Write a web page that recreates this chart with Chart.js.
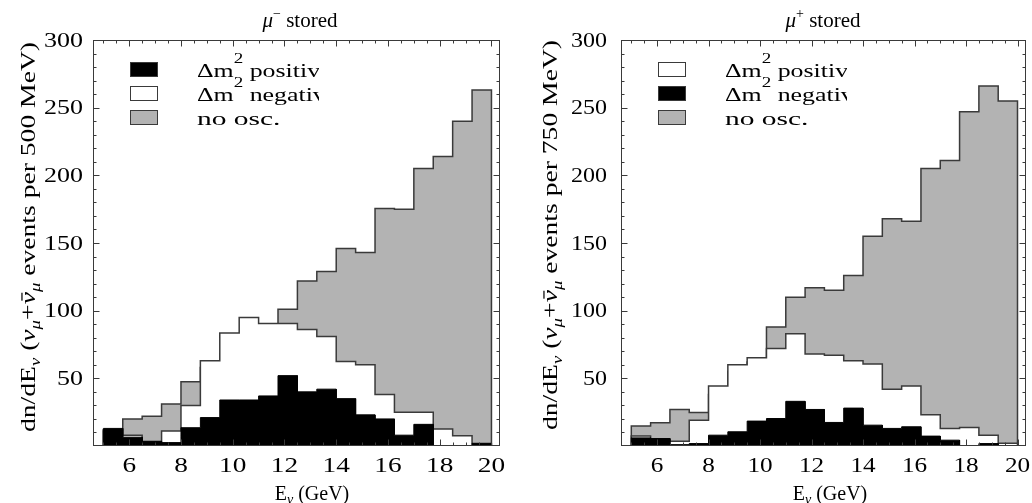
<!DOCTYPE html>
<html>
<head>
<meta charset="utf-8">
<script src="https://cdn.jsdelivr.net/npm/chart.js@4.4.1/dist/chart.umd.min.js"></script>
<style>
  html, body { margin: 0; padding: 0; background: #fff; }
  #wrap { position: relative; width: 1032px; height: 503px; overflow: hidden; }
  .panel { position: absolute; top: 0; width: 516px; height: 503px; }
  canvas { display: block; }
</style>
</head>
<body>
<div id="wrap">
  <div class="panel" style="left:0"><canvas id="muMinus" width="516" height="503"></canvas></div>
  <div class="panel" style="left:516px"><canvas id="muPlus" width="516" height="503"></canvas></div>
</div>
<script>
// Neutrino energy bins (GeV): 20 bins of 750 MeV between 5 and 20 GeV
const binEdges = [5.0, 5.75, 6.5, 7.25, 8.0, 8.75, 9.5, 10.25, 11.0, 11.75,
                  12.5, 13.25, 14.0, 14.75, 15.5, 16.25, 17.0, 17.75, 18.5, 19.25, 20.0];

// mu- stored: event counts per bin
const minusNoOsc    = [12, 20, 22, 31, 47.5, 58, 68, 78, 88, 101, 122, 129, 146, 143, 175.5, 175, 205, 214, 240, 263];
const minusPositive = [13, 6.5, 3.5, 2.5, 13.5, 21, 34, 34, 37, 52, 40, 42, 35, 23, 20, 8, 16, 0, 0, 2];
const minusNegative = [11, 8, 3, 11, 30, 63, 83.5, 95, 90.5, 90.5, 86, 81, 62.5, 60, 38, 25, 25, 12.5, 7.5, 1.5];

// mu+ stored: event counts per bin
const plusNoOsc    = [14.7, 17.2, 27, 24.8, 38, 55, 62, 88, 110, 117, 115, 126, 155, 168, 166, 205, 211, 247, 266, 255];
const plusPositive = [7.3, 5, 3.6, 19, 44.3, 60, 65.3, 72, 83, 68, 67, 63, 60.5, 42, 44.3, 23, 13, 13.7, 8, 2];
const plusNegative = [6, 5.5, 1, 1.8, 8, 10.5, 18.4, 20.3, 33, 27, 17.4, 28, 15.4, 13, 14.2, 7.3, 4.3, 0, 1.8, 0];

// Axis ticks
const xTickValues = [6, 8, 10, 12, 14, 16, 18, 20];
const yTickValues = [50, 100, 150, 200, 250, 300];
const X_MIN = 4.6, X_MAX = 20.33, Y_MIN = 0, Y_MAX = 300;

const SERIF = '"Liberation Serif", "Times New Roman", serif';
const INK = '#000';
const EDGE = '#3a3a3a';
const GREY = '#b3b3b3';

// Closed step outline of a histogram, dropping to zero at both ends
function stepOutline(values) {
  const pts = [{ x: binEdges[0], y: 0 }];
  values.forEach((v, i) => {
    pts.push({ x: binEdges[i], y: v });
    pts.push({ x: binEdges[i + 1], y: v });
  });
  pts.push({ x: binEdges[binEdges.length - 1], y: 0 });
  return pts;
}

function fontOf(r) { return (r.it ? 'italic ' : '') + r.s + 'px ' + SERIF; }

function runsWidth(ctx, runs) {
  let w = 0;
  for (const r of runs) { ctx.font = fontOf(r); w += ctx.measureText(r.t).width; }
  return w;
}

// Draws a line of mixed-style text (sub/superscripts, italics, overbars)
function drawRuns(ctx, runs, x, y, opt) {
  opt = opt || {};
  ctx.save();
  ctx.translate(x, y);
  if (opt.angle) ctx.rotate(opt.angle);
  const w = runsWidth(ctx, runs);
  const k = opt.length ? opt.length / w : (opt.sx || 1);
  ctx.scale(k, 1);
  let cx = opt.align === 'center' ? -w / 2 : (opt.align === 'right' ? -w : 0);
  ctx.textBaseline = 'alphabetic';
  ctx.textAlign = 'left';
  ctx.fillStyle = INK;
  for (const r of runs) {
    ctx.font = fontOf(r);
    const rw = ctx.measureText(r.t).width;
    ctx.fillText(r.t, cx, r.dy || 0);
    if (r.bar) ctx.fillRect(cx + rw * 0.3, (r.dy || 0) - r.s * 0.62, rw * 0.65, Math.max(1, r.s * 0.055));
    cx += rw;
  }
  ctx.restore();
}

function yTitleRuns(binText) {
  const F = 22, S = 15, D = 5;
  return [
    { t: 'dn/dE', s: F },
    { t: 'ν', s: S, it: true, dy: D },
    { t: ' (', s: F },
    { t: 'ν', s: F, it: true },
    { t: 'μ', s: S, it: true, dy: D },
    { t: '+', s: F },
    { t: 'ν', s: F, it: true, bar: true },
    { t: 'μ', s: S, it: true, dy: D },
    { t: ' events per ' + binText + ')', s: F }
  ];
}

function legendRuns(word) {
  return [{ t: 'Δm', s: 19 }, { t: '2', s: 14, dy: -14 }, { t: ' ' + word, s: 19 }];
}

// Frame with inward ticks, tick labels, titles and the in-plot legend
const decorations = {
  id: 'decorations',
  afterDraw(chart, args, o) {
    const ctx = chart.ctx;
    const a = chart.chartArea;
    const xs = chart.scales.x, ys = chart.scales.y;

    ctx.save();
    ctx.strokeStyle = EDGE;
    ctx.lineWidth = 1;
    const L = Math.round(a.left) + 0.5, R = Math.round(a.right) - 0.5;
    const T = Math.round(a.top) + 0.5, B = Math.round(a.bottom) - 0.5;
    ctx.strokeRect(L, T, R - L, B - T);
    ctx.beginPath();
    for (let v = 10; v < Y_MAX; v += 10) {
      const py = Math.round(ys.getPixelForValue(v)) + 0.5;
      const len = v % 50 === 0 ? 6 : 3;
      ctx.moveTo(L, py); ctx.lineTo(L + len, py);
      ctx.moveTo(R, py); ctx.lineTo(R - len, py);
    }
    for (let v = 5; v <= 20; v += 0.5) {
      const px = Math.round(xs.getPixelForValue(v)) + 0.5;
      const len = v % 2 === 0 ? 6 : 3;
      ctx.moveTo(px, B); ctx.lineTo(px, B - len);
      ctx.moveTo(px, T); ctx.lineTo(px, T + len);
    }
    ctx.stroke();
    ctx.restore();

    // tick labels at the scale's tick positions
    ctx.save();
    ctx.fillStyle = INK;
    ctx.textBaseline = 'alphabetic';
    ctx.font = '20px ' + SERIF;
    ys.ticks.forEach(t => {
      if (t.value <= 0) return;
      const py = ys.getPixelForValue(t.value);
      ctx.save();
      ctx.translate(a.left - o.yLabelGap, py + 6.8);
      ctx.scale(o.digitStretch, 1);
      ctx.textAlign = 'right';
      ctx.fillText(String(t.value), 0, 0);
      ctx.restore();
    });
    ctx.font = '21px ' + SERIF;
    xs.ticks.forEach(t => {
      const px = xs.getPixelForValue(t.value);
      ctx.save();
      ctx.translate(px, a.bottom + 25.5);
      ctx.scale(o.digitStretch, 1);
      ctx.textAlign = 'center';
      ctx.fillText(String(t.value), 0, 0);
      ctx.restore();
    });
    ctx.restore();

    // titles
    drawRuns(ctx, o.title, o.titleX, 26.5, { align: 'center' });
    drawRuns(ctx, [{ t: 'E', s: 20 }, { t: 'ν', s: 14, it: true, dy: 4 }, { t: ' (GeV)', s: 20 }],
             o.xTitleX, 500, { align: 'center' });
    drawRuns(ctx, o.yTitle, o.yTitleX, o.yTitleBottom, { angle: -Math.PI / 2, length: o.yTitleLength });

    // legend: the labels are cut off at a fixed right edge
    o.legend.forEach((e, i) => {
      const top = a.top + 22 + i * 24;
      const bx = Math.round(a.left) + 37;
      ctx.fillStyle = e.fill;
      ctx.fillRect(bx, top, 28, 15);
      ctx.strokeStyle = EDGE;
      ctx.lineWidth = 1;
      ctx.strokeRect(bx + 0.5, top + 0.5, 27, 14);
      ctx.save();
      ctx.beginPath();
      ctx.rect(a.left + 95, top - 25, 131, 45);
      ctx.clip();
      drawRuns(ctx, e.runs, a.left + 104, top + 15, { sx: e.sx });
      ctx.restore();
    });
  }
};

function histDataset(label, values, fill, edge, width) {
  return {
    label: label,
    data: stepOutline(values),
    backgroundColor: fill,
    borderColor: edge,
    borderWidth: width,
    fill: 'origin',
    pointRadius: 0,
    tension: 0,
    borderJoinStyle: 'miter'
  };
}

function makePanel(canvasId, datasets, layout, deco) {
  return new Chart(document.getElementById(canvasId), {
    type: 'line',
    data: { datasets: datasets },
    options: {
      responsive: false,
      animation: false,
      events: [],
      layout: { padding: { top: 40, right: layout.right, left: 0, bottom: 0 } },
      plugins: { legend: { display: false }, tooltip: { enabled: false }, title: { display: false }, decorations: deco },
      scales: {
        x: {
          type: 'linear', min: X_MIN, max: X_MAX,
          grid: { display: false }, border: { display: false },
          ticks: { display: false },
          afterBuildTicks: s => { s.ticks = xTickValues.map(v => ({ value: v })); },
          afterFit: s => { s.height = 57; }
        },
        y: {
          type: 'linear', min: Y_MIN, max: Y_MAX,
          grid: { display: false }, border: { display: false },
          ticks: { display: false },
          afterBuildTicks: s => { s.ticks = yTickValues.map(v => ({ value: v })); },
          afterFit: s => { s.width = layout.left; }
        }
      }
    },
    plugins: [decorations]
  });
}

// Datasets listed front to back: the first one is drawn on top
makePanel('muMinus', [
  histDataset('Δm² positive', minusPositive, INK, INK, 1),
  histDataset('Δm² negative', minusNegative, '#fff', EDGE, 1.5),
  histDataset('no osc.', minusNoOsc, GREY, EDGE, 1.5)
], { left: 93, right: 16 }, {
  title: [{ t: 'μ', s: 21, it: true }, { t: '−', s: 14, dy: -9 }, { t: ' stored', s: 21 }],
  titleX: 300, xTitleX: 312,
  yTitle: yTitleRuns('500 MeV'), yTitleX: 35, yTitleBottom: 432, yTitleLength: 390,
  yLabelGap: 10, digitStretch: 1.3,
  legend: [
    { fill: INK, sx: 1.36, runs: legendRuns('positive') },
    { fill: '#fff', sx: 1.36, runs: legendRuns('negative') },
    { fill: GREY, sx: 1.55, runs: [{ t: 'no osc.', s: 19 }] }
  ]
});

makePanel('muPlus', [
  histDataset('Δm² negative', plusNegative, INK, INK, 1),
  histDataset('Δm² positive', plusPositive, '#fff', EDGE, 1.5),
  histDataset('no osc.', plusNoOsc, GREY, EDGE, 1.5)
], { left: 105, right: 6 }, {
  title: [{ t: 'μ', s: 21, it: true }, { t: '+', s: 14, dy: -9 }, { t: ' stored', s: 21 }],
  titleX: 307, xTitleX: 314,
  yTitle: yTitleRuns('750 MeV'), yTitleX: 41, yTitleBottom: 430, yTitleLength: 390,
  yLabelGap: 14, digitStretch: 1.2,
  legend: [
    { fill: '#fff', sx: 1.36, runs: legendRuns('positive') },
    { fill: INK, sx: 1.36, runs: legendRuns('negative') },
    { fill: GREY, sx: 1.55, runs: [{ t: 'no osc.', s: 19 }] }
  ]
});
</script>
</body>
</html>
